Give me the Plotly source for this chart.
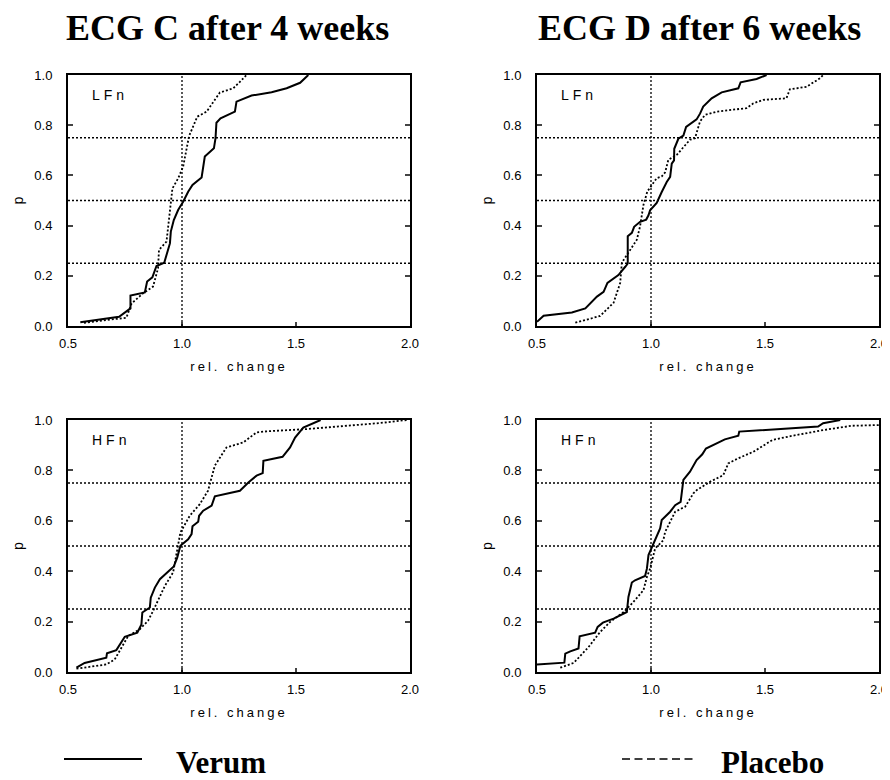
import plotly.graph_objects as go

# ---------------- data ----------------
# ECG C after 4 weeks, LFn
c_lf_verum_x = [0.554, 0.724, 0.774, 0.774, 0.837, 0.847, 0.870, 0.888, 0.922, 0.935, 0.947, 0.951,
                0.964, 0.983, 1.005, 1.027, 1.046, 1.086, 1.093, 1.100, 1.140, 1.147, 1.151, 1.169,
                1.232, 1.239, 1.305, 1.393, 1.459, 1.518, 1.554]
c_lf_verum_p = [0.015, 0.037, 0.070, 0.121, 0.134, 0.177, 0.194, 0.239, 0.252, 0.296, 0.329, 0.376,
                0.422, 0.462, 0.495, 0.535, 0.562, 0.592, 0.628, 0.675, 0.708, 0.748, 0.810, 0.827,
                0.854, 0.894, 0.918, 0.931, 0.947, 0.969, 1.000]
c_lf_placebo_x = [0.570, 0.756, 0.779, 0.829, 0.873, 0.895, 0.899, 0.932, 0.958, 0.983, 1.005, 1.020,
                  1.031, 1.067, 1.108, 1.166, 1.225, 1.254, 1.283]
c_lf_placebo_p = [0.013, 0.033, 0.090, 0.130, 0.157, 0.230, 0.303, 0.336, 0.548, 0.588, 0.635, 0.700,
                  0.757, 0.834, 0.854, 0.930, 0.947, 0.973, 1.000]

# ECG D after 6 weeks, LFn
d_lf_verum_x = [0.500, 0.529, 0.653, 0.712, 0.763, 0.792, 0.809, 0.857, 0.887, 0.898, 0.898, 0.916,
                0.926, 0.952, 0.979, 0.989, 0.996, 1.025, 1.047, 1.069, 1.084, 1.091, 1.101, 1.102,
                1.120, 1.142, 1.154, 1.200, 1.215, 1.229, 1.266, 1.310, 1.383, 1.393, 1.463, 1.507]
d_lf_verum_p = [0.017, 0.041, 0.054, 0.070, 0.117, 0.136, 0.172, 0.203, 0.236, 0.249, 0.358, 0.371,
                0.395, 0.415, 0.424, 0.441, 0.461, 0.490, 0.534, 0.574, 0.594, 0.647, 0.660, 0.706,
                0.746, 0.759, 0.793, 0.823, 0.846, 0.874, 0.907, 0.931, 0.947, 0.971, 0.984, 1.000]
d_lf_placebo_x = [0.668, 0.777, 0.836, 0.865, 0.872, 0.938, 0.952, 0.967, 0.984, 1.025, 1.047, 1.062,
                  1.076, 1.113, 1.171, 1.193, 1.215, 1.237, 1.288, 1.419, 1.449, 1.492, 1.594, 1.609,
                  1.682, 1.741, 1.755]
d_lf_placebo_p = [0.013, 0.040, 0.093, 0.172, 0.252, 0.344, 0.397, 0.483, 0.536, 0.589, 0.596, 0.612,
                  0.662, 0.682, 0.742, 0.748, 0.815, 0.841, 0.854, 0.868, 0.887, 0.901, 0.907, 0.943,
                  0.953, 0.987, 1.000]

# ECG C after 4 weeks, HFn
c_hf_verum_x = [0.537, 0.573, 0.668, 0.671, 0.712, 0.749, 0.804, 0.822, 0.826, 0.859, 0.863, 0.881,
                0.903, 0.935, 0.964, 0.979, 0.993, 1.027, 1.042, 1.046, 1.071, 1.075, 1.093, 1.130,
                1.144, 1.254, 1.291, 1.327, 1.354, 1.357, 1.441, 1.474, 1.496, 1.532, 1.608]
c_hf_verum_p = [0.017, 0.036, 0.057, 0.074, 0.087, 0.140, 0.156, 0.189, 0.236, 0.256, 0.295, 0.335,
                0.368, 0.397, 0.419, 0.454, 0.501, 0.527, 0.547, 0.578, 0.596, 0.620, 0.640, 0.660,
                0.697, 0.719, 0.752, 0.779, 0.789, 0.838, 0.854, 0.891, 0.930, 0.970, 1.000]
c_hf_placebo_x = [0.537, 0.668, 0.705, 0.764, 0.815, 0.851, 0.873, 0.925, 0.961, 0.976, 0.993, 1.034,
                  1.078, 1.114, 1.144, 1.195, 1.269, 1.327, 1.371, 1.547, 1.781, 1.869, 1.986]
c_hf_placebo_p = [0.013, 0.030, 0.050, 0.143, 0.170, 0.203, 0.242, 0.342, 0.395, 0.468, 0.554, 0.620,
                  0.666, 0.719, 0.819, 0.891, 0.911, 0.951, 0.955, 0.964, 0.980, 0.988, 1.000]

# ECG D after 6 weeks, HFn
d_hf_verum_x = [0.500, 0.620, 0.624, 0.646, 0.682, 0.687, 0.755, 0.766, 0.789, 0.836, 0.894, 0.901,
                0.916, 0.930, 0.974, 0.982, 0.989, 1.008, 1.025, 1.040, 1.047, 1.084, 1.106, 1.130,
                1.142, 1.171, 1.200, 1.225, 1.241, 1.276, 1.324, 1.383, 1.387, 1.733, 1.755, 1.830]
d_hf_verum_p = [0.030, 0.037, 0.073, 0.082, 0.093, 0.142, 0.156, 0.179, 0.196, 0.212, 0.238, 0.298,
                0.355, 0.364, 0.381, 0.410, 0.464, 0.503, 0.536, 0.570, 0.603, 0.636, 0.662, 0.675,
                0.762, 0.795, 0.841, 0.864, 0.887, 0.903, 0.923, 0.938, 0.954, 0.974, 0.987, 1.000]
d_hf_placebo_x = [0.602, 0.661, 0.726, 0.777, 0.821, 0.880, 0.923, 0.967, 0.982, 0.996, 1.018, 1.040,
                  1.054, 1.062, 1.091, 1.106, 1.150, 1.186, 1.201, 1.259, 1.317, 1.339, 1.383, 1.449,
                  1.485, 1.533, 1.624, 1.755, 1.879, 2.000]
d_hf_placebo_p = [0.017, 0.036, 0.099, 0.159, 0.199, 0.238, 0.278, 0.325, 0.377, 0.410, 0.490, 0.510,
                  0.523, 0.556, 0.613, 0.636, 0.656, 0.709, 0.722, 0.755, 0.781, 0.828, 0.848, 0.874,
                  0.894, 0.921, 0.938, 0.960, 0.977, 0.980]

column_titles = ["ECG C after 4 weeks", "ECG D after 6 weeks"]
panel_labels = ["LFn", "LFn", "HFn", "HFn"]
x_ticks = [0.5, 1.0, 1.5, 2.0]
y_ticks = [0.0, 0.2, 0.4, 0.6, 0.8, 1.0]
ref_x = [1.0]
ref_p = [0.25, 0.5, 0.75]
series_names = ["Verum", "Placebo"]

panels = [
    (c_lf_verum_x, c_lf_verum_p, c_lf_placebo_x, c_lf_placebo_p),
    (d_lf_verum_x, d_lf_verum_p, d_lf_placebo_x, d_lf_placebo_p),
    (c_hf_verum_x, c_hf_verum_p, c_hf_placebo_x, c_hf_placebo_p),
    (d_hf_verum_x, d_hf_verum_p, d_hf_placebo_x, d_hf_placebo_p),
]

# ---------------- layout geometry ----------------
# the page body has an 8px margin, so the figure is placed at (8, 8) in the window
OFF = 8
W, H = 890 - OFF, 780 - OFF
ML, MR, MT, MB = 68 - OFF, 11, 75 - OFF, 108
PW, PH = W - ML - MR, H - MT - MB

def px_x(px):
    # page pixel -> paper coordinate
    return (px - OFF - ML) / PW

def px_y(py):
    return (H - MB - (py - OFF)) / PH

x_domains = [[px_x(68), px_x(410)], [px_x(537), px_x(879)]]
y_domains = [[px_y(326), px_y(75)], [px_y(672), px_y(420)]]

SANS = "Liberation Sans, Arial, sans-serif"
SERIF = "Liberation Serif, Times New Roman, serif"
DOT = "2px,2px"

fig = go.Figure()
layout = dict(
    width=W, height=H,
    margin=dict(l=ML, r=MR, t=MT, b=MB),
    paper_bgcolor="white", plot_bgcolor="white",
    showlegend=False,
    font=dict(family=SANS, size=13, color="black"),
)

shapes = []
annotations = []

for i, (vx, vp, plx, plp) in enumerate(panels):
    k = i + 1
    row, col = divmod(i, 2)
    xa = "x" if k == 1 else f"x{k}"
    ya = "y" if k == 1 else f"y{k}"
    fig.add_trace(go.Scatter(x=plx, y=plp, mode="lines", name=series_names[1],
                             line=dict(color="black", width=1.8, dash=DOT),
                             xaxis=xa, yaxis=ya))
    fig.add_trace(go.Scatter(x=vx, y=vp, mode="lines", name=series_names[0],
                             line=dict(color="black", width=2),
                             xaxis=xa, yaxis=ya))
    layout[f"xaxis{k if k > 1 else ''}"] = dict(
        domain=x_domains[col], anchor=ya, range=[0.5, 2.0],
        tickvals=x_ticks, tickformat=".1f", ticks="inside", ticklen=4, tickwidth=1.5,
        showline=True, linewidth=2, linecolor="black", mirror=True,
        showgrid=False, zeroline=False, automargin=False,
        tickfont=dict(family=SANS, size=13), ticklabelstandoff=4,
        title=dict(text='<span style="letter-spacing:3px">rel. change</span>',
                   font=dict(family=SANS, size=13), standoff=12),
    )
    layout[f"yaxis{k if k > 1 else ''}"] = dict(
        domain=y_domains[row], anchor=xa, range=[0.0, 1.0],
        tickvals=y_ticks, tickformat=".1f", ticks="inside", ticklen=5, tickwidth=1.5,
        showline=True, linewidth=2, linecolor="black", mirror="ticks",
        showgrid=False, zeroline=False, automargin=False,
        tickfont=dict(family=SANS, size=13), ticklabelstandoff=11,
        title=dict(text="p", font=dict(family=SANS, size=14), standoff=7),
    )
    for rx in ref_x:
        shapes.append(dict(type="line", xref=xa, yref=ya, x0=rx, x1=rx, y0=0, y1=1,
                           line=dict(color="black", width=1.3, dash=DOT)))
    for rp in ref_p:
        shapes.append(dict(type="line", xref=xa, yref=ya, x0=0.5, x1=2.0, y0=rp, y1=rp,
                           line=dict(color="black", width=1.3, dash=DOT)))
    annotations.append(dict(text='<span style="letter-spacing:4px">%s</span>' % panel_labels[i],
                            xref=f"{xa} domain", yref=f"{ya} domain",
                            x=0.064, y=0.92, xanchor="left", yanchor="middle",
                            showarrow=False, font=dict(family=SANS, size=14)))

for j, t in enumerate(column_titles):
    cx = [227.5, 699.5][j]
    annotations.append(dict(text=t, xref="paper", yref="paper", x=px_x(cx), y=px_y(27.5),
                            xanchor="center", yanchor="middle", showarrow=False,
                            font=dict(family=SERIF, size=36, weight="bold")))

# custom legend
shapes.append(dict(type="line", xref="paper", yref="paper",
                   x0=px_x(64), x1=px_x(142), y0=px_y(759), y1=px_y(759),
                   line=dict(color="black", width=2)))
shapes.append(dict(type="line", xref="paper", yref="paper",
                   x0=px_x(622), x1=px_x(697), y0=px_y(759), y1=px_y(759),
                   line=dict(color="black", width=1.5, dash="8px,4.5px")))
annotations.append(dict(text=series_names[0], xref="paper", yref="paper", x=px_x(221), y=px_y(762),
                        xanchor="center", yanchor="middle", showarrow=False,
                        font=dict(family=SERIF, size=31, weight="bold")))
annotations.append(dict(text=series_names[1], xref="paper", yref="paper", x=px_x(772), y=px_y(762),
                        xanchor="center", yanchor="middle", showarrow=False,
                        font=dict(family=SERIF, size=31, weight="bold")))

layout["shapes"] = shapes
layout["annotations"] = annotations
fig.update_layout(**layout)
fig.write_html("out.html")
